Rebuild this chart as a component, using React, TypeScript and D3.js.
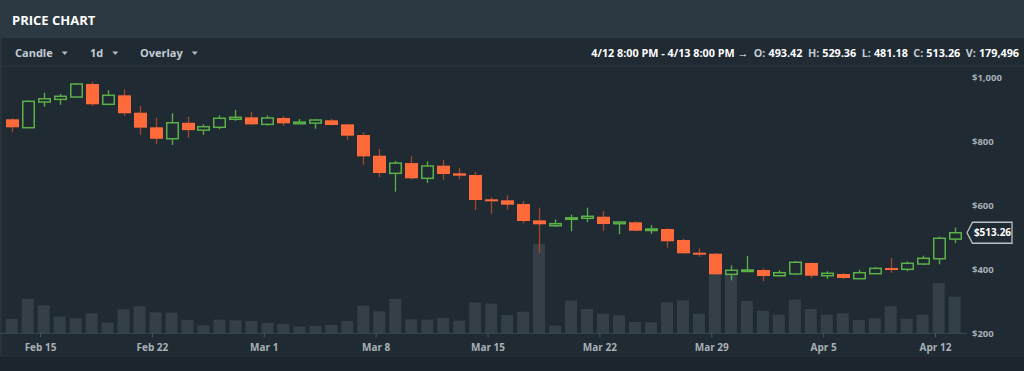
import { useEffect, useRef } from 'react'
import * as d3 from 'd3'

// daily candles, Feb 13 .. Apr 13 2014
const DAYS = d3.timeDay.range(new Date(2014, 1, 13), new Date(2014, 3, 14))

const OPEN = [
  867.8, 841.6, 921.9, 930, 937.5, 978, 914.7, 942.8, 888.4, 842.8, 807, 857, 834, 842.8, 867.8, 874,
  852, 871.9, 854, 856, 864.7, 852, 818.7, 754, 699, 731, 683.4, 722.8, 699, 693.75, 617.8, 614.7,
  603, 552, 535.3, 556, 558.4, 563.4, 541.6, 546, 521, 525, 490.6, 451, 447.8, 383.4, 392.8, 396.9,
  379, 384.4, 418.75, 379, 384.4, 369.7, 385.3, 403, 399, 415.6, 432, 493.42,
]
const HIGH = [
  871, 927, 951, 947, 981, 985, 959, 961.6, 909, 872.8, 886.6, 876, 852, 880, 897, 890.6,
  880, 878, 868.7, 868, 868.7, 853, 827, 775, 737.5, 752, 736.6, 740.6, 715.6, 704, 624, 630,
  612.5, 591.6, 555, 569.7, 591.6, 581, 546.9, 549, 537.5, 528, 494.7, 464.7, 450, 411.6, 440.6, 402,
  396, 425, 421, 392.8, 387.5, 397.8, 406, 434, 424, 441.6, 501, 529.36,
]
const LOW = [
  827, 840, 907, 913, 936, 910, 912, 878, 818.7, 790.6, 787.5, 810, 818.7, 836.6, 863.4, 851,
  848, 848, 853, 838.4, 849, 803, 726, 687.5, 641.6, 680, 668.75, 679, 680, 584, 572.8, 585.3,
  542.8, 451, 532, 517.8, 546, 518.75, 508.4, 518, 510, 466.6, 448, 438.4, 382, 364.7, 392.8, 361.6,
  377, 382, 371, 368.75, 368.75, 369.7, 385, 388.4, 392.8, 412.5, 414.7, 481.18,
]
const CLOSE = [
  842.8, 924, 932, 939.7, 978, 914.7, 942.8, 886.6, 841.6, 807, 857, 834, 844.7, 871, 874, 852,
  871.9, 855.3, 859, 865.6, 850, 816.6, 752, 700, 731, 683.4, 721.9, 696.9, 691.6, 615.6, 611.6, 601,
  550, 539.7, 541.6, 560, 564.7, 540.6, 546.9, 519.7, 525, 486.6, 449, 444.7, 383.4, 396, 396.9, 378,
  388.4, 421, 379, 386.6, 371.9, 388.4, 402, 399, 417.8, 433.4, 496, 513.26,
]
const VOLUME = [
  70600, 168700, 137300, 81900, 73600, 98000, 52500, 117700, 132400, 103000, 101500, 65700, 39200, 67200, 63800, 60800,
  51000, 46100, 32900, 36300, 41200, 60800, 135800, 107900, 168700, 68700, 67200, 75500, 62300, 150600, 145600, 89700,
  105900, 437900, 37300, 159900, 119200, 96100, 88300, 55400, 53900, 152000, 161800, 96100, 309000, 286000, 158400, 110800,
  91200, 164800, 119200, 91200, 98100, 65200, 73600, 132400, 71600, 91200, 246700, 179496,
]

const DATE_TICKS = ['2014-02-15', '2014-02-22', '2014-03-01', '2014-03-08', '2014-03-15', '2014-03-22', '2014-03-29', '2014-04-05', '2014-04-12']
const PRICE_TICKS = [200, 400, 600, 800, 1000]
const TOOLBAR = ['Candle', '1d', 'Overlay']
const INFO = [
  { k: '4/12 8:00 PM - 4/13 8:00 PM \u2192', v: '' },
  { k: 'O:', v: '493.42' },
  { k: 'H:', v: '529.36' },
  { k: 'L:', v: '481.18' },
  { k: 'C:', v: '513.26' },
  { k: 'V:', v: '179,496' },
]

const W = 1024, H = 371
const UP = '#5bb048', DOWN = '#ff6a3a', DOWN_WICK = '#a8452f'
const FONT = '"Open Sans", sans-serif'

export default function App() {
  const svgRef = useRef<SVGSVGElement>(null)

  useEffect(() => {
    if (!svgRef.current) return
    const svg = d3.select(svgRef.current)
    svg.selectAll('*').remove()

    // panels
    svg.append('rect').attr('width', W).attr('height', H).attr('fill', '#1f2a33')
    svg.append('rect').attr('width', W).attr('height', 38).attr('fill', '#2d3942')
    svg.append('rect').attr('y', 38).attr('width', 2).attr('height', H - 38).attr('fill', '#27323b')
    svg.append('line').attr('x1', 0).attr('x2', W).attr('y1', 66).attr('y2', 66).attr('stroke', '#2e3942')
    svg.append('rect').attr('y', 356).attr('width', W).attr('height', H - 356).attr('fill', '#1c252d')
    svg.append('line').attr('x1', 0).attr('x2', W).attr('y1', 356).attr('y2', 356).attr('stroke', '#262f37')

    svg.append('text').attr('x', 12).attr('y', 25).attr('fill', '#ffffff')
      .attr('font-family', FONT).attr('font-size', 13).attr('font-weight', 700).text('PRICE CHART')

    // toolbar dropdowns
    const tbX = [15, 90, 140]
    TOOLBAR.forEach((t, i) => {
      const txt = svg.append('text').attr('x', tbX[i]).attr('y', 57).attr('fill', '#c3ccd3')
        .attr('font-family', FONT).attr('font-size', 11).attr('font-weight', 700).text(t)
      const w = (txt.node() as SVGTextElement).getComputedTextLength()
      const tx = tbX[i] + w + 9
      svg.append('path').attr('d', `M${tx},51.5 L${tx + 6},51.5 L${tx + 3},55 Z`).attr('fill', '#b3bcc3')
    })

    const info = svg.append('text').attr('x', 1019).attr('y', 57).attr('text-anchor', 'end')
      .attr('font-family', FONT).attr('font-size', 10.8).attr('font-weight', 700)
    INFO.forEach((d, i) => {
      info.append('tspan').attr('dx', i === 0 ? 0 : 5.5).attr('fill', i === 0 ? '#ffffff' : '#c3ccd3').text(d.k)
      if (d.v) info.append('tspan').attr('dx', 3).attr('fill', '#ffffff').text(d.v)
    })

    // scales
    const parse = d3.timeParse('%Y-%m-%d')
    const ticks = DATE_TICKS.map(s => parse(s)!)
    const x = d3.scaleTime().domain([ticks[0], ticks[ticks.length - 1]]).range([40, 935])
    const y = d3.scaleLinear().domain([200, 1000]).range([333, 77])
    const yVol = d3.scaleLinear().domain([0, 490400]).range([333.3, 233.3])
    const cx = (d: Date) => x(d3.timeMinute.offset(d, 330))
    const bw = 12

    // volume
    svg.append('g').selectAll('rect').data(DAYS).join('rect')
      .attr('x', d => cx(d) - bw / 2).attr('width', bw)
      .attr('y', (_, i) => yVol(VOLUME[i])).attr('height', (_, i) => yVol(0) - yVol(VOLUME[i]))
      .attr('fill', '#343f48')

    // x axis
    svg.append('line').attr('x1', 0).attr('x2', 967).attr('y1', 333.3).attr('y2', 333.3).attr('stroke', '#3e4a53')
    const xAxis = svg.append('g').attr('transform', 'translate(0,333.3)')
      .call(d3.axisBottom(x).tickValues(ticks).tickFormat(d3.timeFormat('%b %-d') as any).tickSize(4).tickPadding(6.5))
    xAxis.select('.domain').remove()
    xAxis.selectAll('line').attr('stroke', '#4a5660')
    xAxis.selectAll('text').attr('fill', '#a9b1b8').attr('font-family', FONT).attr('font-size', 10).attr('font-weight', 700)

    // price axis
    const yAxis = svg.append('g').attr('transform', 'translate(972,0)')
      .call(d3.axisRight(y).tickValues(PRICE_TICKS).tickFormat(d => '$' + d3.format(',')(d as number)).tickSize(0).tickPadding(0))
    yAxis.select('.domain').remove()
    yAxis.selectAll('text').attr('fill', '#a9b1b8').attr('font-family', FONT).attr('font-size', 9.5).attr('font-weight', 700)

    // candles
    const g = svg.append('g')
    DAYS.forEach((d, i) => {
      const o = OPEN[i], c = CLOSE[i], up = c >= o
      const px = Math.round(cx(d)) + 0.5
      g.append('line').attr('x1', px).attr('x2', px).attr('y1', y(HIGH[i])).attr('y2', y(LOW[i]))
        .attr('stroke', up ? UP : DOWN_WICK).attr('stroke-width', 1.3)
      const top = y(Math.max(o, c)), bot = y(Math.min(o, c))
      if (up) {
        const h = Math.max(bot - top, 1.5)
        g.append('rect').attr('x', px - 5.75).attr('width', 11.5).attr('y', top).attr('height', h)
          .attr('fill', '#1f2a33').attr('stroke', UP).attr('stroke-width', 1.5)
      } else {
        const h = Math.max(bot - top, 2)
        g.append('rect').attr('x', px - 6.5).attr('width', 13).attr('y', top).attr('height', h)
          .attr('fill', DOWN)
      }
    })

    // last price tag
    const last = CLOSE[CLOSE.length - 1]
    const ty = y(last)
    svg.append('path')
      .attr('d', `M967,${ty} L972.5,${ty - 10.5} L1012,${ty - 10.5} L1012,${ty + 10.5} L972.5,${ty + 10.5} Z`)
      .attr('fill', '#1f2a33').attr('stroke', '#b9c0c6').attr('stroke-width', 1.3)
    svg.append('text').attr('x', 992.5).attr('y', ty).attr('dy', '0.35em').attr('text-anchor', 'middle')
      .attr('fill', '#ffffff').attr('font-family', FONT).attr('font-size', 10).attr('font-weight', 700)
      .text('$' + d3.format('.2f')(last))
  }, [])

  return (
    <svg ref={svgRef} width={W} height={H} viewBox={`0 0 ${W} ${H}`}
      style={{ position: 'absolute', left: 0, top: 0, display: 'block' }} />
  )
}
